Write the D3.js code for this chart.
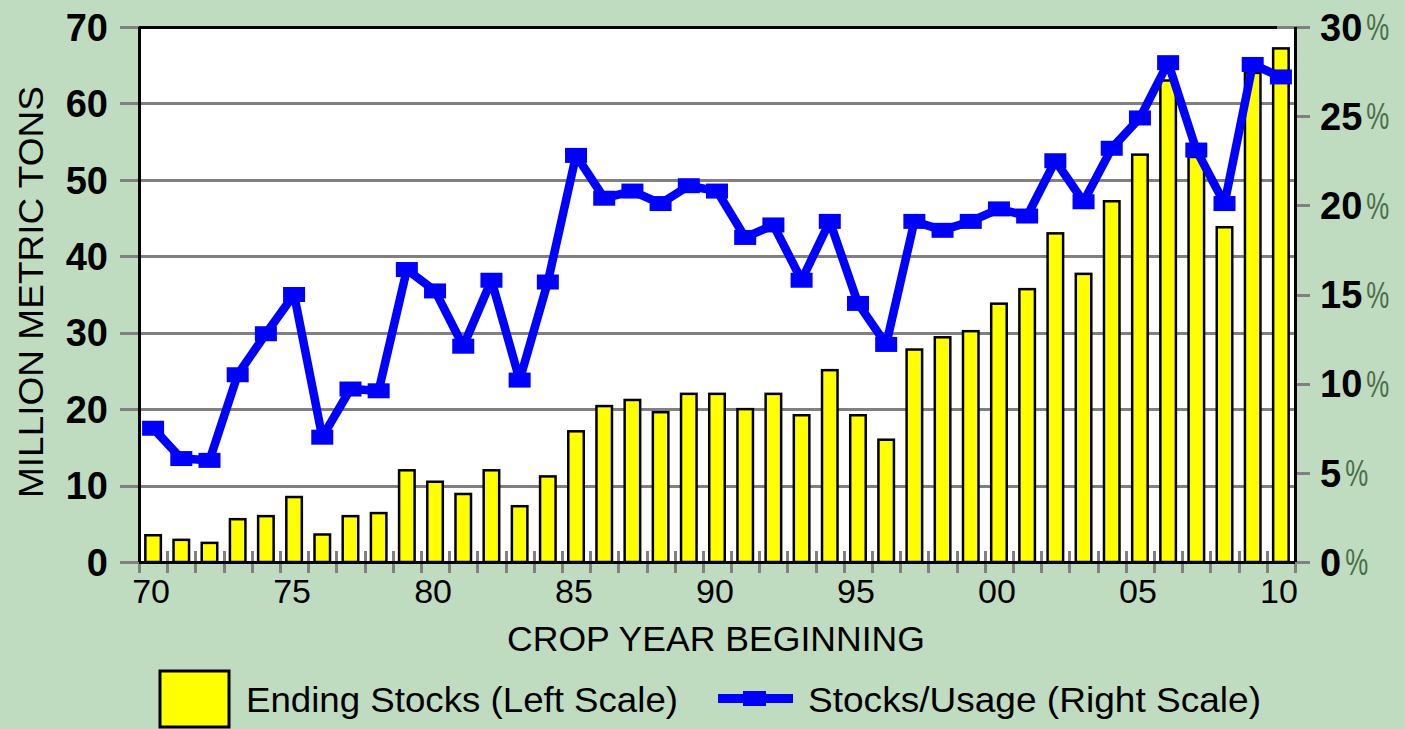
<!DOCTYPE html>
<html>
<head>
<meta charset="utf-8">
<script src="https://cdn.jsdelivr.net/npm/d3@7"></script>
<style>
  html, body { margin: 0; padding: 0; background: #c0dcc0; }
  svg { display: block; font-family: "Liberation Sans", Arial, sans-serif; }
</style>
</head>
<body>
<div id="chart"></div>
<script>
// crop years 1970 .. 2010
const years = [1970, 1971, 1972, 1973, 1974, 1975, 1976, 1977, 1978, 1979,
               1980, 1981, 1982, 1983, 1984, 1985, 1986, 1987, 1988, 1989,
               1990, 1991, 1992, 1993, 1994, 1995, 1996, 1997, 1998, 1999,
               2000, 2001, 2002, 2003, 2004, 2005, 2006, 2007, 2008, 2009, 2010];

// ending stocks, million metric tons (left scale)
const endingStocks = [3.5, 2.9, 2.5, 5.6, 6.0, 8.5, 3.6, 6.0, 6.4, 12.0,
                      10.5, 8.9, 12.0, 7.3, 11.2, 17.1, 20.4, 21.2, 19.6, 22.0,
                      22.0, 20.0, 22.0, 19.2, 25.1, 19.2, 16.0, 27.8, 29.4, 30.2,
                      33.8, 35.7, 43.0, 37.7, 47.2, 53.3, 63.0, 53.0, 43.8, 64.0, 67.2];

// stocks / usage, percent (right scale)
const stocksUsage = [7.5, 5.8, 5.7, 10.5, 12.8, 15.0, 7.0, 9.7, 9.6, 16.4,
                     15.2, 12.1, 15.8, 10.2, 15.7, 22.8, 20.4, 20.8, 20.1, 21.1,
                     20.8, 18.2, 18.9, 15.8, 19.1, 14.5, 12.2, 19.1, 18.6, 19.1,
                     19.8, 19.4, 22.5, 20.2, 23.2, 24.9, 28.0, 23.1, 20.1, 27.9, 27.2];

const xTickYears = [1970, 1975, 1980, 1985, 1990, 1995, 2000, 2005, 2010];
const xTickLabels = ["70", "75", "80", "85", "90", "95", "00", "05", "10"];
const leftTicks = [0, 10, 20, 30, 40, 50, 60, 70];
const rightTicks = [0, 5, 10, 15, 20, 25, 30];

const width = 1405, height = 729;
const plot = {left: 139, right: 1295, top: 27, bottom: 562};

const svg = d3.select("#chart").append("svg")
    .attr("width", width)
    .attr("height", height);

svg.append("rect")
    .attr("width", width).attr("height", height)
    .attr("fill", "#c0dcc0");

let x = d3.scaleBand().domain(years)
    .range([plot.left, plot.right])
    .paddingInner(0.45).paddingOuter(0.225);
let yL = d3.scaleLinear().domain([0, 70]).range([plot.bottom, plot.top]);
let yR = d3.scaleLinear().domain([0, 30]).range([plot.bottom, plot.top]);

// plot background
svg.append("rect")
    .attr("x", plot.left).attr("y", plot.top)
    .attr("width", plot.right - plot.left).attr("height", plot.bottom - plot.top)
    .attr("fill", "#fff");

// gridlines + left ticks
svg.append("g").selectAll("line")
    .data(leftTicks)
    .enter().append("line")
    .attr("x1", 120).attr("x2", plot.right)
    .attr("y1", d => Math.round(yL(d))).attr("y2", d => Math.round(yL(d)))
    .attr("stroke", "#808080").attr("stroke-width", 3)
    .attr("shape-rendering", "crispEdges");

// right ticks
svg.append("g").selectAll("line")
    .data(rightTicks)
    .enter().append("line")
    .attr("x1", plot.right).attr("x2", 1310)
    .attr("y1", d => Math.round(yR(d))).attr("y2", d => Math.round(yR(d)))
    .attr("stroke", "#808080").attr("stroke-width", 3)
    .attr("shape-rendering", "crispEdges");

// bottom ticks at category boundaries
const step = x.step();
const boundaries = years.map((d, i) => plot.left + i * step).concat([plot.right]);
svg.append("g").selectAll("line")
    .data(boundaries)
    .enter().append("line")
    .attr("x1", d => Math.round(d)).attr("x2", d => Math.round(d))
    .attr("y1", 551).attr("y2", 573)
    .attr("stroke", "#808080").attr("stroke-width", 3)
    .attr("shape-rendering", "crispEdges");

// bars
svg.append("g").selectAll("rect")
    .data(years)
    .enter().append("rect")
    .attr("x", d => x(d))
    .attr("width", x.bandwidth())
    .attr("y", (d, i) => yL(endingStocks[i]))
    .attr("height", (d, i) => plot.bottom - yL(endingStocks[i]))
    .attr("fill", "#ffff00")
    .attr("stroke", "#000")
    .attr("stroke-width", 2.5);

// frame
const frame = svg.append("g").attr("stroke", "#000").attr("stroke-width", 3)
    .attr("shape-rendering", "crispEdges");
frame.append("line").attr("x1", plot.left).attr("x2", plot.right - 18)
    .attr("y1", plot.top).attr("y2", plot.top);
frame.append("line").attr("x1", plot.left).attr("x2", plot.left)
    .attr("y1", plot.top).attr("y2", plot.bottom);
frame.append("line").attr("x1", plot.right).attr("x2", plot.right)
    .attr("y1", plot.top).attr("y2", plot.bottom);
frame.append("line").attr("x1", plot.left).attr("x2", plot.right)
    .attr("y1", plot.bottom).attr("y2", plot.bottom);

// stocks/usage line
const cx = d => x(d) + x.bandwidth() / 2;
const line = d3.line()
    .x(d => cx(d))
    .y((d, i) => yR(stocksUsage[i]));

svg.append("path")
    .datum(years)
    .attr("d", line)
    .attr("fill", "none")
    .attr("stroke", "#0000ff")
    .attr("stroke-width", 8.5)
    .attr("stroke-linejoin", "round");

svg.append("g").selectAll("rect")
    .data(years)
    .enter().append("rect")
    .attr("x", d => cx(d) - 11)
    .attr("y", (d, i) => yR(stocksUsage[i]) - 7.5)
    .attr("width", 22).attr("height", 15)
    .attr("fill", "#0000ff");

// left tick labels
svg.append("g").selectAll("text")
    .data(leftTicks)
    .enter().append("text")
    .attr("x", 108)
    .attr("y", d => yL(d))
    .attr("dy", "0.36em")
    .attr("text-anchor", "end")
    .attr("font-size", 38)
    .attr("font-weight", "bold")
    .attr("fill", "#000")
    .text(d => d);

// right tick labels: bold digits, then a narrow greyish "%"
const rg = svg.append("g");
rightTicks.forEach(function (d) {
    let num = rg.append("text")
        .attr("x", 1320)
        .attr("y", yR(d))
        .attr("dy", "0.36em")
        .attr("font-size", 38)
        .attr("font-weight", "bold")
        .attr("fill", "#000")
        .text(d);
    let w = num.node().getComputedTextLength();
    rg.append("text")
        .attr("x", 1320 + w + 4)
        .attr("y", yR(d))
        .attr("dy", "0.36em")
        .attr("font-size", 37)
        .attr("fill", "#4a6e4a")
        .attr("textLength", 23).attr("lengthAdjust", "spacingAndGlyphs")
        .text("%");
});

// bottom labels
svg.append("g").selectAll("text")
    .data(xTickYears)
    .enter().append("text")
    .attr("x", d => cx(d) - 2)
    .attr("y", 603)
    .attr("text-anchor", "middle")
    .attr("font-size", 34)
    .attr("fill", "#000")
    .text((d, i) => xTickLabels[i]);

// axis titles
svg.append("text")
    .attr("x", 507).attr("y", 651)
    .attr("font-size", 35)
    .attr("textLength", 418).attr("lengthAdjust", "spacingAndGlyphs")
    .text("CROP YEAR BEGINNING");

svg.append("text")
    .attr("transform", "translate(43,498) rotate(-90)")
    .attr("font-size", 35)
    .attr("textLength", 412).attr("lengthAdjust", "spacingAndGlyphs")
    .text("MILLION METRIC TONS");

// legend
const legend = svg.append("g");
legend.append("rect")
    .attr("x", 160).attr("y", 671).attr("width", 69).attr("height", 56)
    .attr("fill", "#ffff00").attr("stroke", "#000").attr("stroke-width", 3);
legend.append("text")
    .attr("x", 246).attr("y", 712)
    .attr("font-size", 35)
    .attr("textLength", 432).attr("lengthAdjust", "spacingAndGlyphs")
    .text("Ending Stocks (Left Scale)");
legend.append("line")
    .attr("x1", 718).attr("x2", 793).attr("y1", 698.5).attr("y2", 698.5)
    .attr("stroke", "#0000ff").attr("stroke-width", 9);
legend.append("rect")
    .attr("x", 743).attr("y", 691).attr("width", 23).attr("height", 15)
    .attr("fill", "#0000ff");
legend.append("text")
    .attr("x", 808).attr("y", 712)
    .attr("font-size", 35)
    .attr("textLength", 453).attr("lengthAdjust", "spacingAndGlyphs")
    .text("Stocks/Usage (Right Scale)");
</script>
</body>
</html>
